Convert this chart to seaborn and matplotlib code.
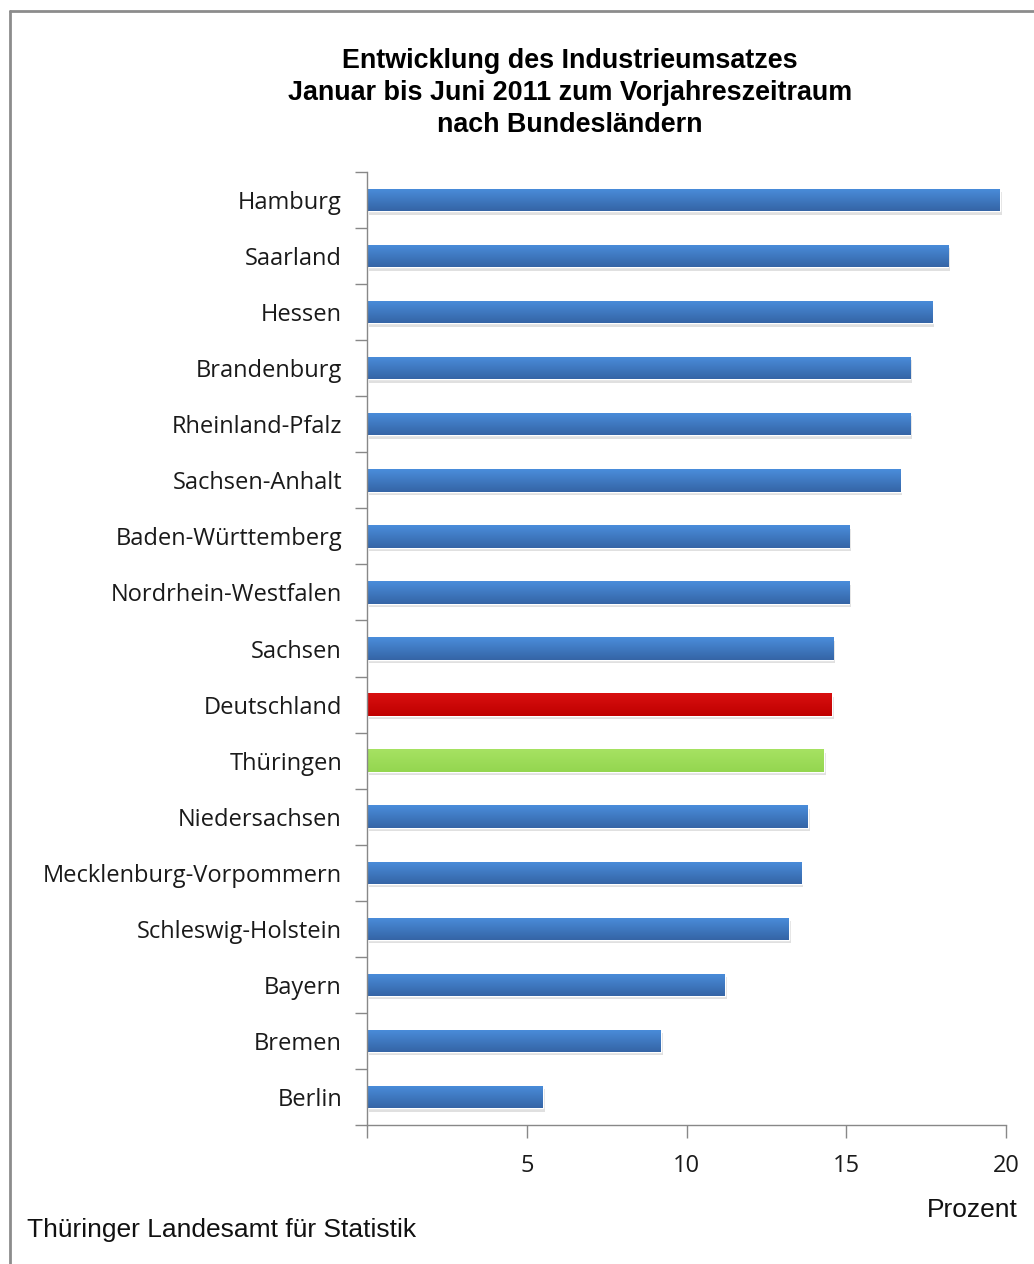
import matplotlib
matplotlib.use("Agg")
import matplotlib.pyplot as plt
import numpy as np
import pandas as pd
import seaborn as sns
from matplotlib.lines import Line2D
from matplotlib.patches import Rectangle

# Daten
laender = ["Hamburg", "Saarland", "Hessen", "Brandenburg", "Rheinland-Pfalz",
           "Sachsen-Anhalt", "Baden-Württemberg", "Nordrhein-Westfalen", "Sachsen",
           "Deutschland", "Thüringen", "Niedersachsen", "Mecklenburg-Vorpommern",
           "Schleswig-Holstein", "Bayern", "Bremen", "Berlin"]
prozent = [19.8, 18.2, 17.7, 17.0, 17.0, 16.7, 15.1, 15.1, 14.6,
           14.55, 14.3, 13.8, 13.6, 13.2, 11.2, 9.2, 5.5]
x_ticks = [0, 5, 10, 15, 20]
x_ticklabels = ["", "5", "10", "15", "20"]

df = pd.DataFrame({"land": laender, "wert": prozent})

# Farben: Blau Standard, Deutschland rot, Thüringen grün
farben = {"Deutschland": ("#d81010", "#c00000"), "Thüringen": ("#a6e262", "#94d650")}
blau = ("#4a8ddb", "#3565a6")

sns.set_style("white")
plt.rcParams["font.family"] = ["Open Sans", "DejaVu Sans"]

fig = plt.figure(figsize=(10.34, 12.64), dpi=100)
W, H = 1034, 1264
ax = fig.add_axes([367 / W, 1 - 1125 / H, (1006 - 367) / W, (1125 - 172) / H])

sns.barplot(data=df, x="wert", y="land", order=laender, color=blau[0],
            width=0.4, ax=ax, saturation=1)

# Verlauf und Schatten für jeden Balken
for patch, land in zip(ax.patches, laender):
    top, bottom = farben.get(land, blau)
    x0, y0 = patch.get_x(), patch.get_y()
    w, h = patch.get_width(), patch.get_height()
    shadow = Rectangle((x0 + 0.06, y0 + 0.06), w, h, facecolor="#000000",
                       alpha=0.12, edgecolor="none", zorder=1.5)
    ax.add_patch(shadow)
    c1 = np.array(matplotlib.colors.to_rgb(top))
    c2 = np.array(matplotlib.colors.to_rgb(bottom))
    t = np.linspace(0, 1, 32)[:, None]
    grad = (c1 * (1 - t) + c2 * t)[:, None, :]
    im = ax.imshow(grad, extent=(x0, x0 + w, y0 + h, y0), aspect="auto",
                   zorder=2.5, interpolation="bilinear")
    im.set_clip_path(patch)
    patch.set_zorder(2)

ax.set_xlim(0, 20)
ax.set_ylim(len(laender) - 0.5, -0.5)
ax.set_aspect("auto")
ax.set_xticks(x_ticks)
ax.set_xticklabels(x_ticklabels)
ax.set_yticks(np.arange(len(laender)))
ax.set_yticklabels(laender)
ax.set_yticks(np.arange(len(laender) + 1) - 0.5, minor=True)
ax.tick_params(axis="y", which="major", left=True, length=0, pad=18, labelsize=17,
               labelcolor="#1a1a1a")
ax.tick_params(axis="y", which="minor", left=True, length=9, width=1, color="#888888",
               direction="out")
ax.tick_params(axis="x", bottom=True, length=9, width=1, color="#888888", direction="out",
               pad=12, labelsize=17, labelcolor="#1a1a1a")
ax.set_xlabel("")
ax.set_ylabel("")
for side in ["top", "right"]:
    ax.spines[side].set_visible(False)
for side in ["left", "bottom"]:
    ax.spines[side].set_color("#888888")
    ax.spines[side].set_linewidth(1)

# Titel
fig.text(570 / W, 1 - 93 / H,
         "Entwicklung des Industrieumsatzes\nJanuar bis Juni 2011 zum Vorjahreszeitraum\nnach Bundesländern",
         ha="center", va="center", fontsize=19.4, fontweight="bold", color="black",
         family=["Liberation Sans", "DejaVu Sans"], linespacing=1.3)

fig.text(1018 / W, 1 - 1210 / H, "Prozent", ha="right", va="center", fontsize=19,
         family=["Liberation Sans", "DejaVu Sans"], color="#111111")
fig.text(27 / W, 1 - 1230 / H, "Thüringer Landesamt für Statistik", ha="left", va="center",
         fontsize=19, family=["Liberation Sans", "DejaVu Sans"], color="#111111")

# Rahmen (oben und links sichtbar)
fig.add_artist(Line2D([10 / W, 1], [1 - 10.5 / H, 1 - 10.5 / H], color="#8c8c8c", lw=2,
                      transform=fig.transFigure))
fig.add_artist(Line2D([9.5 / W, 9.5 / W], [0, 1 - 10.5 / H], color="#8c8c8c", lw=2,
                      transform=fig.transFigure))

fig.savefig("out.png", dpi=100)
